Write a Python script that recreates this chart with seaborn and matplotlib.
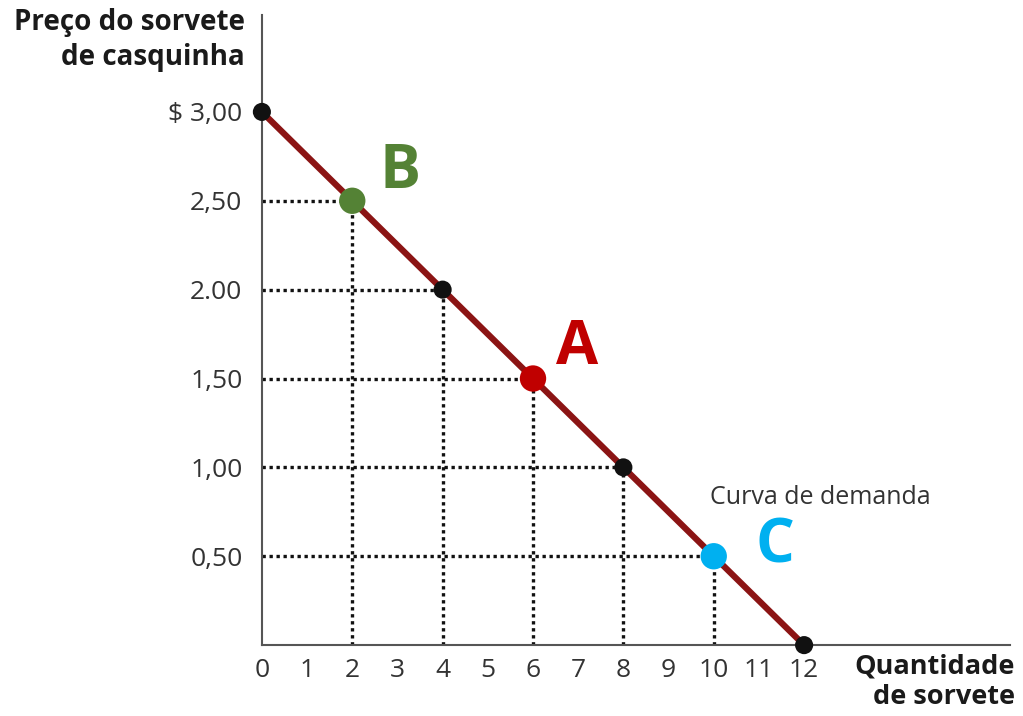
import matplotlib
matplotlib.use("Agg")
import matplotlib.pyplot as plt
import seaborn as sns
import pandas as pd

# demand schedule
quantidade = [0, 2, 4, 6, 8, 10, 12]
preco = [3.00, 2.50, 2.00, 1.50, 1.00, 0.50, 0.00]

# black reference points
pts_q = [0, 4, 8, 12]
pts_p = [3.00, 2.00, 1.00, 0.00]

# highlighted points
destaque = ["B", "A", "C"]
dest_q = [2, 6, 10]
dest_p = [2.50, 1.50, 0.50]
dest_cores = ["#548235", "#c00000", "#00b0f0"]
# where each letter sits, relative to its point
rot_dx = [1.05, 0.97, 1.35]
rot_dy = [0.16, 0.17, 0.05]

yticks = [3.00, 2.50, 2.00, 1.50, 1.00, 0.50]
ylabels = ["$ 3,00", "2,50", "2.00", "1,50", "1,00", "0,50"]
xticks = list(range(13))

sns.set_style("white")
plt.rcParams["font.family"] = ["Open Sans", "DejaVu Sans"]

df = pd.DataFrame({"q": quantidade, "p": preco})
df_pts = pd.DataFrame({"q": pts_q, "p": pts_p})
df_dest = pd.DataFrame({"q": dest_q, "p": dest_p, "nome": destaque})

fig = plt.figure(figsize=(10.23, 7.16), dpi=100)
ax = fig.add_axes([0.256, 0.099, 0.731, 0.880])

# dotted guide lines
for q, p in zip(quantidade[1:-1], preco[1:-1]):
    ax.plot([0, q], [p, p], ls=(0, (1, 1.1)), color="#111111", lw=2.4, zorder=1)
    ax.plot([q, q], [0, p], ls=(0, (1, 1.1)), color="#111111", lw=2.4, zorder=1)

sns.lineplot(data=df, x="q", y="p", ax=ax, color="#8b1414", lw=4.5, zorder=2)
sns.scatterplot(data=df_pts, x="q", y="p", ax=ax, color="#111111", s=170,
                edgecolor="none", zorder=3, clip_on=False)
sns.scatterplot(data=df_dest, x="q", y="p", hue="nome", palette=dest_cores,
                hue_order=destaque, ax=ax, s=360, edgecolor="none", zorder=4,
                legend=False, clip_on=False)

# point labels
for nome, q, p, c, dx, dy in zip(destaque, dest_q, dest_p, dest_cores, rot_dx, rot_dy):
    ax.text(q + dx, p + dy, nome, color=c, fontsize=44, fontweight="bold",
            ha="center", va="center")

ax.text(12.35, 0.83, "Curva de demanda", fontsize=18, color="#333333",
        ha="center", va="center")

ax.set_xlim(0, 16.55)
ax.set_ylim(0, 3.545)
ax.set_xticks(xticks)
ax.set_xticklabels([str(x) for x in xticks], fontsize=19, color="#333333")
ax.set_yticks(yticks)
ax.set_yticklabels(ylabels, fontsize=19, color="#333333")
ax.tick_params(axis="x", direction="in", length=14, width=1.5, color="#555555", pad=9)
ax.tick_params(axis="y", direction="in", length=14, width=1.5, color="#555555", pad=14)
ax.set_xlabel("")
ax.set_ylabel("")

sns.despine(ax=ax)
for s in ["left", "bottom"]:
    ax.spines[s].set_color("#555555")
    ax.spines[s].set_linewidth(1.5)

fig.text(245 / 1023, 1 - 40 / 716, "Preço do sorvete\nde casquinha", fontsize=20,
         fontweight="bold", ha="right", va="center", color="#1a1a1a", linespacing=1.25)
fig.text(1015 / 1023, 1 - 682 / 716, "Quantidade\nde sorvete", fontsize=19.5,
         fontweight="bold", ha="right", va="center", color="#1a1a1a", linespacing=1.2)

fig.savefig("out.png", dpi=100)
